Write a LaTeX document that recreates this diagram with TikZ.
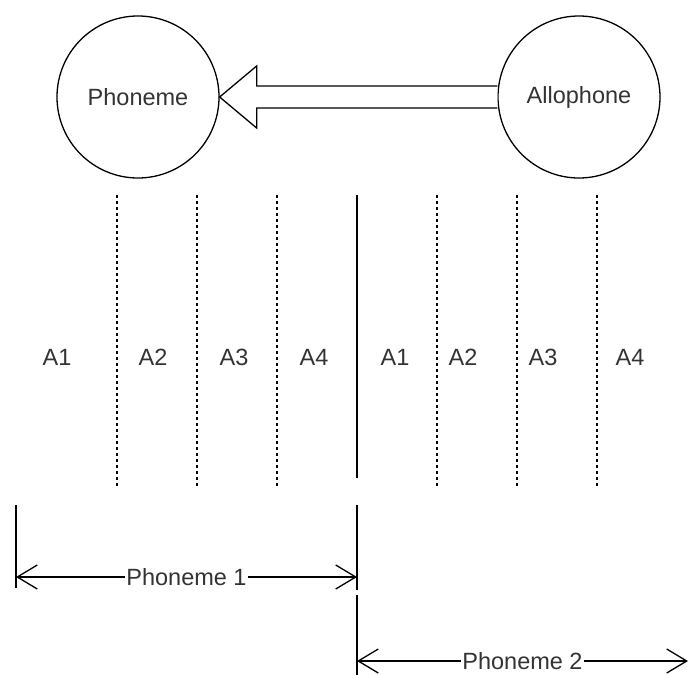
\documentclass[tikz,border=0pt]{standalone}
\usepackage{fontspec}
\setmainfont{Liberation Sans}
\usepackage{xcolor}
\usetikzlibrary{arrows.meta,positioning,calc}
\definecolor{txtgray}{HTML}{333333}

\begin{document}
\begin{tikzpicture}[x=1pt, y=-1pt,
		lbl/.style={text=txtgray, font=\fontsize{23.5}{28}\selectfont, inner sep=1pt},
		unit/.style={circle, draw, line width=1.3pt, minimum size=162pt, lbl},
		divider/.style={line width=1.2pt, dash pattern=on 3pt off 3pt},
		tick/.style={line width=1.4pt},
		span/.style={line width=1.3pt, {Straight Barb[length=20pt,width=24pt]}-{Straight Barb[length=20pt,width=24pt]}}]
	\useasboundingbox (0,0) rectangle (689,675);

	\node[unit] (phon) at (138,97) {Phoneme};
	\node[unit] (allo) at (579,97) {Allophone};

	% block arrow from allophone to phoneme
	\draw[line width=1.3pt, fill=white]
		([yshift=11pt]allo.west) -- ([xshift=37pt,yshift=11pt]phon.east)
		-- ([xshift=37pt,yshift=31pt]phon.east) -- (phon.east)
		-- ([xshift=37pt,yshift=-31pt]phon.east) -- ([xshift=37pt,yshift=-11pt]phon.east)
		-- ([yshift=-11pt]allo.west);

	% allophone slots
	\foreach \x in {117,197,277,437,517,597}
		\draw[divider] (\x,195) -- (\x,487);
	\draw[tick] (357,195) -- (357,478);
	\foreach \x/\t/\n in {57/A1/a1, 153/A2/a2, 234/A3/a3, 314/A4/a4,
			395/A1/b1, 463/A2/b2, 543/A3/b3, 630/A4/b4}
		\node[lbl] (\n) at (\x,357) {\t};

	% phoneme spans
	\coordinate (s1) at (16,577);
	\coordinate (e1) at (357,577);
	\coordinate (s2) at (357,661);
	\coordinate (e2) at (688,661);
	\draw[tick] (16,505) -- (16,588);
	\draw[tick] (357,505) -- (357,590);
	\draw[tick] (357,595) -- (357,675);
	\draw[span] (s1) -- node[lbl, fill=white] (ph1) {Phoneme 1} (e1);
	\draw[span] (s2) -- node[lbl, fill=white] (ph2) {Phoneme 2} (e2);
\end{tikzpicture}
\end{document}
